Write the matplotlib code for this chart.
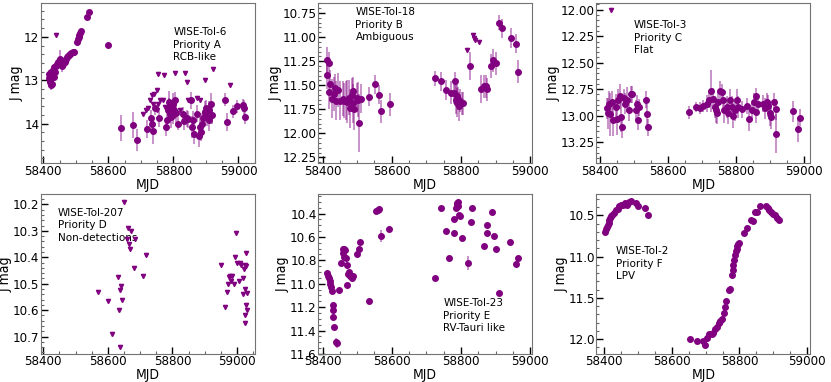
import matplotlib
matplotlib.use("Agg")
import matplotlib.pyplot as plt
from matplotlib.ticker import AutoMinorLocator, MultipleLocator

# ---- WISE-Tol-6 (Priority A, RCB-like)
tol6_mjd = [58418, 58419, 58420, 58421, 58422, 58423, 58424, 58425, 58426, 58428, 58430, 58432,
            58434, 58436, 58438, 58441, 58444, 58451, 58455, 58458, 58460, 58463, 58466, 58469,
            58472, 58475, 58478, 58482, 58486, 58490, 58494, 58505, 58507, 58509, 58511, 58513,
            58515, 58534, 58541, 58598,
            58638, 58677, 58687, 58718, 58731, 58734, 58738, 58744, 58757, 58777, 58779, 58782,
            58785, 58787, 58790, 58792, 58795, 58798, 58800, 58802, 58805, 58808, 58813, 58829,
            58833, 58841, 58846, 58853, 58856, 58859, 58862, 58872, 58878, 58882, 58885, 58888,
            58892, 58896, 58900, 58903, 58908, 58911, 58915, 58918, 58959, 58964, 58983, 58995,
            59013, 59018, 59021]
tol6_mag = [12.85, 12.95, 13.05, 12.90, 13.00, 13.10, 12.80, 12.95, 13.08, 12.88, 12.78, 12.92,
            12.70, 12.82, 12.68, 12.62, 12.58, 12.50, 12.60, 12.68, 12.62, 12.55, 12.58, 12.50,
            12.46, 12.43, 12.42, 12.40, 12.38, 12.36, 12.35, 12.12, 12.06, 12.00, 11.95, 11.90,
            11.86, 11.54, 11.42, 12.19,
            14.10, 14.04, 14.38, 14.12, 13.88, 14.02, 14.18, 13.65, 13.88, 14.08, 13.92, 13.69,
            13.50, 13.62, 13.77, 13.85, 13.65, 13.54, 13.81, 13.69, 13.46, 13.75, 14.00, 13.77,
            13.94, 13.88, 13.90, 13.46, 14.08, 13.92, 14.23, 13.77, 14.28, 14.08, 14.19, 14.00,
            13.88, 13.73, 13.65, 13.85, 13.92, 13.69, 13.54, 13.81, 13.45, 13.96, 13.71, 13.60,
            13.58, 13.65, 13.85]
tol6_err = [0.08, 0.10, 0.12, 0.10, 0.10, 0.12, 0.08, 0.10, 0.12, 0.10, 0.08, 0.10,
            0.08, 0.08, 0.06, 0.06, 0.06, 0.20, 0.08, 0.12, 0.08, 0.06, 0.06, 0.05,
            0.05, 0.05, 0.05, 0.05, 0.04, 0.04, 0.04, 0.03, 0.03, 0.03, 0.03, 0.03,
            0.03, 0.02, 0.02, 0.02,
            0.30, 0.30, 0.25, 0.20, 0.20, 0.20, 0.30, 0.15, 0.20, 0.20, 0.25, 0.20,
            0.25, 0.20, 0.20, 0.25, 0.20, 0.25, 0.20, 0.20, 0.20, 0.25, 0.15, 0.15,
            0.20, 0.20, 0.20, 0.20, 0.25, 0.20, 0.25, 0.20, 0.25, 0.25, 0.20, 0.25,
            0.20, 0.25, 0.20, 0.20, 0.25, 0.20, 0.25, 0.20, 0.15, 0.20, 0.15, 0.15,
            0.15, 0.20, 0.15]
tol6_lim_mjd = [58439, 58752, 58771, 58804, 58837, 58841, 58897, 58921, 58974, 58733, 58740,
                58749, 58728, 58738, 58708, 58715, 58723, 58754, 58759, 58769, 58774, 58846,
                58872, 58882, 58821, 58749]
tol6_lim_mag = [11.96, 12.85, 12.88, 12.83, 12.83, 13.04, 13.00, 12.75, 13.12, 13.33, 13.31,
                13.23, 13.46, 13.54, 13.77, 13.69, 13.65, 13.54, 13.46, 13.46, 13.62, 13.46,
                13.41, 13.46, 13.69, 13.69]

# ---- WISE-Tol-18 (Priority B, Ambiguous)
tol18_mjd = [58414, 58419, 58414, 58419, 58422, 58426, 58432, 58437, 58440, 58445, 58451, 58458,
             58462, 58467, 58472, 58477, 58480, 58484, 58487, 58489, 58491, 58501, 58503, 58506,
             58511, 58533, 58552, 58563, 58570, 58594,
             58724, 58743, 58757, 58770, 58780, 58783, 58785, 58788, 58789, 58792, 58794, 58797,
             58802, 58807, 58827, 58859, 58866, 58871, 58876, 58888, 58892, 58900, 58910, 58917,
             58943, 58958, 58965]
tol18_mag = [11.24, 11.27, 11.39, 11.57, 11.49, 11.64, 11.59, 11.53, 11.66, 11.55, 11.66, 11.64,
             11.66, 11.66, 11.67, 11.63, 11.74, 11.60, 11.56, 11.69, 11.75, 11.63, 11.65, 11.89,
             11.64, 11.62, 11.49, 11.60, 11.77, 11.70,
             11.43, 11.46, 11.55, 11.58, 11.58, 11.46, 11.65, 11.61, 11.68, 11.64, 11.72, 11.66,
             11.69, 11.69, 11.30, 11.54, 11.51, 11.51, 11.54, 11.30, 11.24, 11.27, 10.85, 10.91,
             11.01, 11.07, 11.36]
tol18_err = [0.14, 0.12, 0.15, 0.18, 0.15, 0.20, 0.18, 0.15, 0.20, 0.18, 0.20, 0.18,
             0.18, 0.20, 0.22, 0.18, 0.20, 0.18, 0.15, 0.20, 0.22, 0.15, 0.18, 0.30,
             0.15, 0.10, 0.10, 0.10, 0.12, 0.12,
             0.08, 0.10, 0.10, 0.12, 0.12, 0.10, 0.15, 0.12, 0.15, 0.12, 0.15, 0.12,
             0.12, 0.12, 0.15, 0.15, 0.12, 0.12, 0.12, 0.12, 0.12, 0.12, 0.08, 0.10,
             0.10, 0.10, 0.12]
tol18_lim_mjd = [58818, 58835, 58838, 58840, 58851]
tol18_lim_mag = [11.13, 10.98, 11.01, 11.03, 11.05]

# ---- WISE-Tol-3 (Priority C, Flat)
tol3_mjd = [58422, 58424, 58427, 58432, 58437, 58440, 58447, 58450, 58454, 58461, 58463, 58466,
            58471, 58476, 58481, 58486, 58491, 58494, 58508, 58510, 58512, 58515, 58537, 58539,
            58542,
            58663, 58683, 58696, 58705, 58715, 58723, 58728, 58733, 58740, 58742, 58744, 58749,
            58754, 58759, 58764, 58766, 58774, 58778, 58783, 58788, 58791, 58798, 58803, 58808,
            58820, 58832, 58840, 58847, 58854, 58860, 58861, 58866, 58881, 58886, 58891, 58896,
            58900, 58905, 58912, 58918, 58920, 58969, 58983, 58990]
tol3_mag = [12.93, 12.98, 12.89, 12.99, 12.87, 13.04, 12.92, 13.03, 12.85, 12.82, 13.01, 13.11,
            12.83, 12.89, 12.85, 12.95, 12.80, 12.80, 12.95, 12.89, 13.04, 12.92, 12.85, 12.99,
            13.11,
            12.97, 12.92, 12.93, 12.91, 12.89, 12.85, 12.77, 12.84, 12.92, 12.95, 12.98, 12.87,
            12.77, 12.78, 12.85, 12.95, 12.92, 12.98, 12.85, 12.92, 13.00, 12.95, 12.85, 12.92,
            12.94, 12.91, 13.03, 12.95, 12.87, 12.82, 12.97, 12.89, 12.89, 12.93, 12.87, 12.91,
            12.98, 13.01, 12.87, 12.94, 13.17, 12.96, 13.13, 13.02]
tol3_err = [0.10, 0.15, 0.12, 0.20, 0.10, 0.15, 0.12, 0.15, 0.10, 0.12, 0.15, 0.10,
            0.08, 0.10, 0.12, 0.10, 0.08, 0.08, 0.10, 0.08, 0.10, 0.08, 0.08, 0.10,
            0.08,
            0.06, 0.05, 0.06, 0.06, 0.08, 0.08, 0.20, 0.10, 0.10, 0.12, 0.10, 0.10,
            0.10, 0.08, 0.10, 0.12, 0.10, 0.10, 0.10, 0.10, 0.12, 0.10, 0.10, 0.10,
            0.08, 0.08, 0.12, 0.08, 0.08, 0.08, 0.10, 0.08, 0.08, 0.10, 0.08, 0.10,
            0.12, 0.12, 0.08, 0.10, 0.18, 0.10, 0.12, 0.08]
tol3_lim_mjd = [58435]
tol3_lim_mag = [12.00]

# ---- WISE-Tol-207 (Priority D, Non-detections)
tol207_lim_mjd = [58571, 58601, 58632, 58633, 58614, 58637, 58639, 58642, 58645, 58649, 58658,
                  58663, 58666, 58670, 58673, 58681, 58685, 58709, 58717,
                  58952, 58962, 58969, 58973, 58975, 58979, 58985, 58982, 58990, 58994, 58996,
                  59000, 59006, 59008, 59012, 59018, 59020, 59022, 59024, 59025, 59025, 59026,
                  59029, 59029, 59031, 59031, 59027]
tol207_lim_mag = [10.53, 10.565, 10.475, 10.60, 10.69, 10.74, 10.525, 10.51, 10.56, 10.19, 10.33,
                  10.29, 10.35, 10.37, 10.30, 10.44, 10.33, 10.47, 10.39,
                  10.43, 10.59, 10.53, 10.50, 10.475, 10.47, 10.47, 10.49, 10.50, 10.40, 10.31,
                  10.42, 10.49, 10.42, 10.43, 10.54, 10.48, 10.445, 10.43, 10.52, 10.62, 10.65,
                  10.58, 10.385, 10.60, 10.535, 10.435]

# ---- WISE-Tol-23 (Priority E, RV-Tauri like)
tol23_mjd = [58414, 58417, 58419, 58421, 58422, 58424, 58426, 58429, 58430, 58431, 58434, 58440,
             58443, 58449, 58453, 58458, 58458, 58461, 58463, 58465, 58468, 58470, 58472, 58474,
             58477, 58480, 58484, 58487, 58501, 58504, 58507, 58533, 58554, 58559, 58563, 58570,
             58593,
             58724, 58743, 58756, 58766, 58779, 58780, 58785, 58787, 58788, 58790, 58792, 58794,
             58797, 58804, 58828, 58820, 58832, 58866, 58875, 58875, 58890, 58895, 58900, 58909,
             58941, 58958, 58965]
tol23_mag = [10.91, 10.93, 10.955, 10.975, 11.00, 11.03, 11.06, 11.18, 11.22, 11.28, 11.37, 11.50,
             11.51, 11.05, 10.82, 10.70, 10.74, 10.77, 10.70, 10.71, 10.78, 10.84, 11.01, 10.92,
             10.90, 10.93, 10.95, 10.93, 10.75, 10.70, 10.64, 11.15, 10.375, 10.37, 10.365, 10.59,
             10.53,
             10.95, 10.35, 10.55, 10.78, 10.57, 10.45, 10.35, 10.32, 10.31, 10.30, 10.34, 10.41,
             10.42, 10.61, 10.47, 10.82, 10.35, 10.68, 10.50, 10.57, 10.39, 10.59, 10.70, 11.08,
             10.64, 10.83, 10.78]
tol23_err = [0.01, 0.01, 0.01, 0.01, 0.01, 0.01, 0.01, 0.02, 0.02, 0.02, 0.02, 0.04,
             0.04, 0.01, 0.01, 0.02, 0.02, 0.01, 0.01, 0.01, 0.01, 0.01, 0.01, 0.02,
             0.02, 0.02, 0.03, 0.02, 0.01, 0.01, 0.01, 0.01, 0.01, 0.01, 0.01, 0.05,
             0.01,
             0.01, 0.01, 0.01, 0.01, 0.01, 0.01, 0.02, 0.02, 0.02, 0.02, 0.01, 0.01,
             0.01, 0.01, 0.01, 0.06, 0.01, 0.01, 0.01, 0.01, 0.01, 0.01, 0.01, 0.01,
             0.01, 0.01, 0.01]

# ---- WISE-Tol-2 (Priority F, LPV)
tol2_mjd = [58402, 58405, 58407, 58410, 58413, 58415, 58418, 58421, 58424, 58429, 58435, 58440,
            58444, 58450, 58456, 58462, 58468, 58472, 58478, 58494, 58499, 58521, 58528,
            58654, 58674, 58691, 58697, 58704, 58711, 58718, 58723, 58728, 58733, 58738, 58743,
            58748, 58753, 58756, 58761, 58768, 58773, 58777, 58780, 58782, 58785, 58788, 58790,
            58792, 58794, 58797, 58800, 58812, 58822, 58835, 58839, 58847, 58852, 58862, 58879,
            58883, 58888, 58893, 58899, 58906, 58911, 58916]
tol2_mag = [10.70, 10.67, 10.64, 10.61, 10.59, 10.56, 10.53, 10.51, 10.49, 10.47, 10.44, 10.42,
            10.39, 10.37, 10.37, 10.35, 10.37, 10.34, 10.33, 10.35, 10.38, 10.41, 10.49,
            12.00, 12.02, 12.02, 12.07, 11.98, 11.94, 11.94, 11.92, 11.88, 11.85, 11.81, 11.78,
            11.75, 11.68, 11.61, 11.54, 11.40, 11.39, 11.22, 11.16, 11.10, 11.04, 10.98, 10.93,
            10.91, 10.87, 10.85, 10.84, 10.71, 10.65, 10.56, 10.57, 10.46, 10.46, 10.38, 10.38,
            10.41, 10.43, 10.46, 10.48, 10.49, 10.53, 10.55]

# panel set-up: (name, priority, class, xlim, ylim (bottom, top), major y step, text x, text y)
panels = [
    ("WISE-Tol-6", "Priority A", "RCB-like", (58392, 59050), (14.91, 11.23), 1.0, 0.62, 0.85),
    ("WISE-Tol-18", "Priority B", "Ambiguous", (58387, 59005), (12.31, 10.65), 0.25, 0.175, 0.975),
    ("WISE-Tol-3", "Priority C", "Flat", (58391, 59020), (13.45, 11.94), 0.25, 0.175, 0.895),
    ("WISE-Tol-207", "Priority D", "Non-detections", (58392, 59055), (10.766, 10.162), 0.1, 0.08, 0.915),
    ("WISE-Tol-23", "Priority E", "RV-Tauri like", (58387, 59005), (11.6, 10.236), 0.2, 0.585, 0.35),
    ("WISE-Tol-2", "Priority F", "LPV", (58377, 59010), (12.18, 10.244), 0.5, 0.09, 0.675),
]

det = [(tol6_mjd, tol6_mag, tol6_err), (tol18_mjd, tol18_mag, tol18_err),
       (tol3_mjd, tol3_mag, tol3_err), None,
       (tol23_mjd, tol23_mag, tol23_err), (tol2_mjd, tol2_mag, None)]
lims = [(tol6_lim_mjd, tol6_lim_mag), (tol18_lim_mjd, tol18_lim_mag),
        (tol3_lim_mjd, tol3_lim_mag), (tol207_lim_mjd, tol207_lim_mag), None, None]

purple = "#800080"
tick_font = dict(family=["DejaVu Sans Condensed", "DejaVu Sans"], stretch="condensed", size=9.5)
label_font = dict(family=["DejaVu Sans Condensed", "DejaVu Sans"], stretch="condensed", size=10)

fig = plt.figure(figsize=(8.31, 3.82), dpi=100)
lefts = [0.049, 0.3827, 0.7178]
bottoms = [0.573, 0.0733]

for i, (name, prio, cls, xl, yl, ystep, tx, ty) in enumerate(panels):
    ax = fig.add_axes([lefts[i % 3], bottoms[i // 3], 0.2575, 0.418])
    if det[i] is not None:
        x, y, e = det[i]
        ax.errorbar(x, y, yerr=e, fmt="o", color=purple, ms=4, ecolor=purple,
                    elinewidth=1.2, zorder=3, capsize=0)
        for line in ax.collections:
            line.set_alpha(0.5)
    if lims[i] is not None:
        lx, ly = lims[i]
        ax.plot(lx, ly, "v", color=purple, ms=3, zorder=4)
    ax.set_xlim(*xl)
    ax.set_ylim(*yl)
    ax.xaxis.set_major_locator(MultipleLocator(200))
    ax.yaxis.set_major_locator(MultipleLocator(ystep))
    ax.xaxis.set_minor_locator(AutoMinorLocator())
    ax.yaxis.set_minor_locator(AutoMinorLocator())
    ax.tick_params(which="both", direction="in", top=False, right=False, pad=1)
    ax.tick_params(which="major", length=5, width=1)
    ax.tick_params(which="minor", length=2.5, width=0.8, color="0.4")
    for lab in ax.get_xticklabels() + ax.get_yticklabels():
        lab.set_fontproperties(tick_font)
    for s in ax.spines.values():
        s.set_color("0.45")
    ax.set_xlabel("MJD", labelpad=0, **label_font)
    ax.set_ylabel("J mag", labelpad=0, **label_font)
    ax.text(tx, ty, name + "\n" + prio + "\n" + cls, transform=ax.transAxes,
            fontsize=7.5, va="top", ha="left", linespacing=1.3)

fig.savefig("out.png", dpi=100)
